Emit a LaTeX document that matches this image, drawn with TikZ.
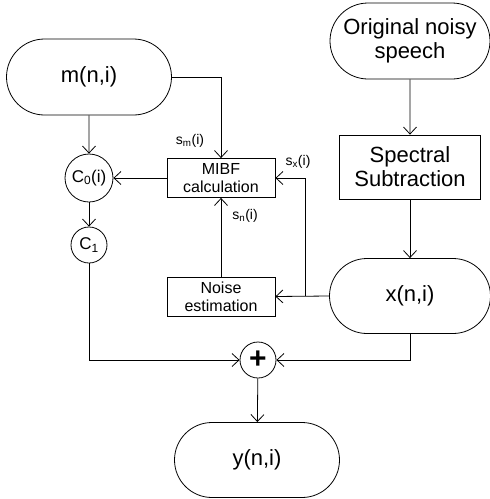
\documentclass[tikz,border=0pt]{standalone}
\usepackage{fontspec}
\setmainfont{Liberation Sans}
\usetikzlibrary{arrows.meta,shapes.misc}

\begin{document}
\begin{tikzpicture}[x=1pt,y=-1pt,line width=0.8pt,
    >={Straight Barb[length=7pt,width=13pt]},
    term/.style={draw,rounded rectangle,minimum width=165pt,minimum height=76pt,
      inner sep=0pt,align=center,font=\fontsize{22}{24}\selectfont},
    blk/.style={draw,rectangle,inner sep=0pt,align=center},
    gain/.style={draw,circle,inner sep=0pt,font=\fontsize{17}{18}\selectfont},
    sig/.style={font=\fontsize{14}{16}\selectfont}]
    \useasboundingbox (0,0) rectangle (490,499);
    % terminals
    \node[term] (mni) at (89,77) {m(n,i)};
    \node[term,minimum width=160pt] (orig) at (410,41) {Original noisy\\speech};
    \node[term,minimum width=161pt,minimum height=75pt] (xni) at (410,296) {x(n,i)};
    \node[term,minimum height=75pt] (yni) at (257,460) {y(n,i)};
    % processing blocks
    \node[blk,minimum width=141pt,minimum height=64pt,font=\fontsize{22}{24}\selectfont]
      (spec) at (410,167) {Spectral\\Subtraction};
    \node[blk,minimum width=108pt,minimum height=39pt,font=\fontsize{16}{18}\selectfont]
      (mibf) at (221,178) {MIBF\\calculation};
    \node[blk,minimum width=108pt,minimum height=39pt,font=\fontsize{16}{18}\selectfont]
      (noise) at (221,296.5) {Noise\\estimation};
    % gains and sum
    \node[gain,minimum size=48pt] (c0) at (89,178) {C\textsubscript{0}(i)};
    \node[gain,minimum size=36pt] (c1) at (89,245) {C\textsubscript{1}};
    \node[gain,minimum size=36pt,font=\fontsize{30}{30}\bfseries] (sum) at (258,360) {+};
    \coordinate (tap) at (305,296);
    % signal flow
    \draw[->] (orig) -- (spec);
    \draw[->] (spec) -- (xni);
    \draw[->] (mni.east) -| (mibf.north);
    \draw[->] (mni) -- (c0);
    \draw[->] (mibf) -- (c0);
    \draw[->] (c0) -- (c1);
    \draw[->] (c1.south) |- (sum.west);
    \draw[->] (noise) -- (mibf);
    \draw[->] (xni.west) -- (noise.east);
    \draw[->] (tap) |- (mibf.east);
    \draw[->] (xni.south) |- (sum.east);
    \draw[->] (sum) -- (yni);
    % signal labels
    \node[sig] (sm) at (190,141) {s\textsubscript{m}(i)};
    \node[sig] (sn) at (245,216) {s\textsubscript{n}(i)};
    \node[sig] (sx) at (298,162) {s\textsubscript{x}(i)};
\end{tikzpicture}
\end{document}
